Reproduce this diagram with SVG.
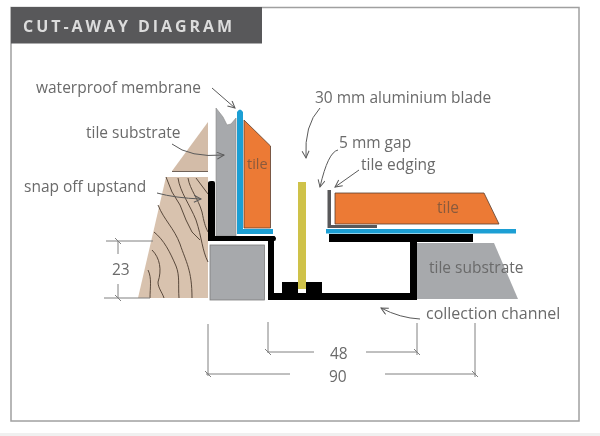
<svg xmlns="http://www.w3.org/2000/svg" width="600" height="436" viewBox="0 0 600 436">
<style>
text{font-family:"Open Sans","Noto Sans","Liberation Sans",sans-serif;font-size:15.500px;fill:#6a6a6a}
.lead{fill:none;stroke:#5a5a5a;stroke-width:1;marker-end:url(#a)}
.dim{fill:none;stroke:#808080;stroke-width:1}
.grain{fill:none;stroke:#4a3a2e;stroke-width:.9}
.edge{stroke:#5a4030;stroke-width:.8}
</style>
<defs>
<marker id="a" markerWidth="10" markerHeight="10" refX="8" refY="4" orient="auto" markerUnits="userSpaceOnUse"><path d="M1 0.5L8 4L1 7.500" fill="none" stroke="#5a5a5a" stroke-width="1"/></marker>
<filter id="soft" x="0" y="0" width="100%" height="100%"><feGaussianBlur stdDeviation="0.4"/></filter>
</defs>
<g filter="url(#soft)">
<rect width="600" height="436" fill="#fff"/>
<rect y="433" width="600" height="3" fill="#f0f0f0"/>
<rect x="11" y="7.500" width="568" height="413.500" fill="#fff" stroke="#a0a0a0" stroke-width="1.500"/>
<g id="title"><rect x="11" y="7" width="251" height="36.500" fill="#58585a"/>
<text x="23" y="32" style="font-size:16px;font-weight:700;letter-spacing:2.950px;fill:#dcdcdc">CUT-AWAY DIAGRAM</text></g>

<g id="substrate-left">
<path d="M208 122L172 171H208Z" fill="#d3bca8"/><path d="M172 171.500H208" stroke="#6f6258" stroke-width="1.200"/>
<path d="M166 177H208V298H138Z" fill="#d8c2ae"/>
<g class="grain">
<path d="M166 177L172 192L180 205L186 220L192 232L200 240"/>
<path d="M178 178C180 192 190 205 196 220C202 238 202 250 208 262"/>
<path d="M188 178C190 190 198 198 202 212C204 222 205 226 208 232"/>
<path d="M196 178L202 186L208 194"/>
<path d="M158 205C164 220 174 228 180 244C186 262 192 270 192 298"/>
<path d="M154 232C164 240 170 252 176 266C180 276 178 285 179 298"/>
<path d="M152 250C160 258 162 270 158 282C158 288 162 292 164 298"/>
<path d="M148 270C152 278 150 288 150 298"/>
</g></g>

<g id="membrane-wall">
<path d="M216 108L223 117L227 125L231 124L236 118V236H216Z" fill="#a7a9ac" stroke="#8a8a8a" stroke-width=".6"/>
<path d="M237 112Q240 107 243 112V229H273V234H237Z" fill="#1f9fd4"/>
<path d="M244 120L270.500 146V228H244Z" fill="#ec7a35" class="edge"/>
<text x="247" y="169" style="font-size:14.500px;fill:#8a5a3c">tile</text>
</g>

<g id="channel">
<path d="M208 183Q208 181 211 181H213Q215 181 215 183V236H274.500Q276 237 276 238.500Q276 241 274 241V293H410V242H329V234H473V242H417V300H268V241H208Z" fill="#000"/>
<rect x="282" y="282" width="40" height="12" fill="#000"/>
</g>
<rect id="block" x="210" y="245" width="54.500" height="55" fill="#a7a9ac" stroke="#7d7d7d" stroke-width=".8"/>
<g id="blade"><rect x="298" y="182" width="8" height="107" fill="#cfc24a"/><rect x="298" y="289" width="8" height="4" fill="#fff"/></g>

<g id="tile-right">
<path d="M335 193H484L499 224H335Z" fill="#ec7a35" class="edge"/>
<path d="M327.500 190H331V225H377V228H327.500Z" fill="#58585a"/>
<rect x="326" y="229" width="190" height="4.500" fill="#1f9fd4"/>
<text x="437" y="213" style="fill:#8a5a3c">tile</text>
</g>
<g id="substrate-right">
<path d="M417 243H494L518 299H417Z" fill="#a7a9ac"/>
<text x="429" y="273">tile substrate</text>
</g>

<g id="labels">
<text x="36" y="93">waterproof membrane</text>
<text x="86" y="138">tile substrate</text>
<text x="24" y="192">snap off upstand</text>
<text x="315" y="103">30 mm aluminium blade</text>
<text x="339" y="148">5 mm gap</text>
<text x="361" y="169.500">tile edging</text>
<text x="426" y="319" style="font-size:16px">collection channel</text>
<text x="112" y="275">23</text>
<text x="330" y="359">48</text>
<text x="329" y="382">90</text>
</g>

<g id="connectors">
<path class="lead" d="M212 88L235 108"/>
<path class="lead" d="M172 144Q190 158 224 155"/>
<path class="lead" d="M157 193Q175 198 201 199"/>
<path class="lead" d="M320 108Q304 125 306 158"/>
<path class="lead" d="M338 150Q328 152 320 187"/>
<path class="lead" d="M359 170L335 187"/>
<path class="lead" d="M420 319Q400 318 381 308"/>
<path class="dim" d="M106 241H153M104 298H150M118 241V254M118 284V298M115 238L121 244M115 295L121 301"/>
<path class="dim" d="M268 322V353M268 352H314M366 352H417M417 323V355M265 349L271 355M414 349L420 355"/>
<path class="dim" d="M208 324V376M206 374H290M385 374H476M475 323V377M205 371L211 377M472 371L478 377"/>
</g>
</g>
</svg>
